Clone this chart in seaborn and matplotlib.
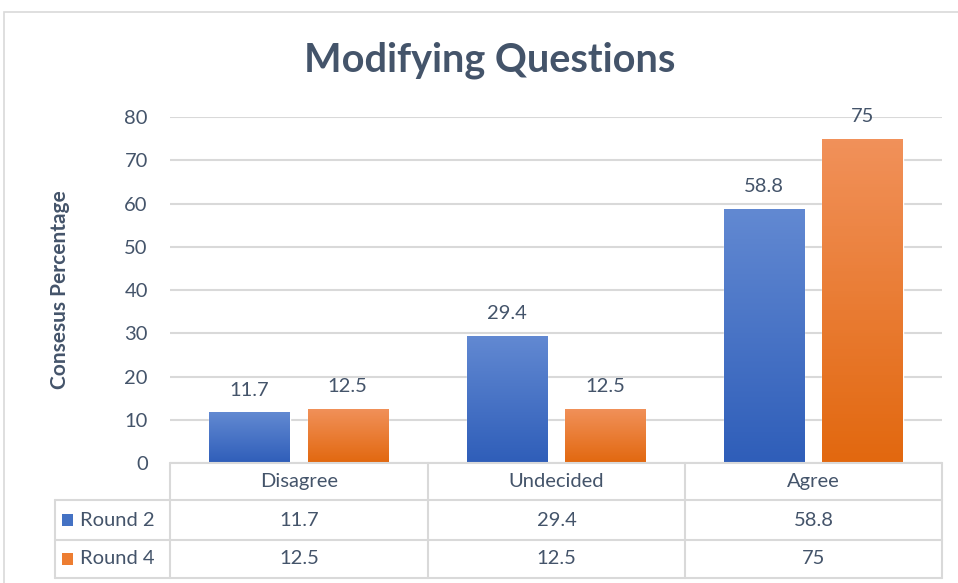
import numpy as np
import pandas as pd
import matplotlib
matplotlib.use("Agg")
import matplotlib.pyplot as plt
import seaborn as sns
from matplotlib.lines import Line2D
from matplotlib.patches import Rectangle
from matplotlib.colors import LinearSegmentedColormap

# data
categories = ["Disagree", "Undecided", "Agree"]
series_names = ["Round 2", "Round 4"]
round2 = [11.7, 29.4, 58.8]
round4 = [12.5, 12.5, 75]
yticks = [0, 10, 20, 30, 40, 50, 60, 70, 80]

TXT = "#44546A"
GRID = "#D9D9D9"
FS = 14.5
colors = {"Round 2": "#4472C4", "Round 4": "#ED7D31"}
grads = {"Round 2": ("#2F5EB9", "#6289D2"), "Round 4": ("#E2680F", "#F1915A")}

df = pd.DataFrame({
    "category": categories * 2,
    "series": [series_names[0]] * 3 + [series_names[1]] * 3,
    "value": round2 + round4,
})

sns.set_style("white")
plt.rcParams["font.family"] = ["Lato", "DejaVu Sans"]

W, H = 958, 583
fig = plt.figure(figsize=(W / 100, H / 100), dpi=100)

def fx(x):
    return x / W

def fy(y):
    return 1 - y / H

ax = fig.add_axes([fx(170), fy(463), fx(942) - fx(170), fy(117) - fy(463)])
sns.barplot(ax=ax, data=df, x="category", y="value", hue="series",
            palette=colors, width=0.763, gap=0.18, legend=False)
ax.set_yticks(yticks)
ax.set_yticklabels([str(t) for t in yticks], fontsize=FS, color=TXT)
ax.tick_params(axis="y", length=0, pad=16)
ax.set_xticks([])
ax.set_xlabel("")
ax.set_ylabel("Consesus Percentage", fontsize=15, fontweight="bold", color=TXT)
ax.yaxis.set_label_coords((70 - 170) / (942 - 170), 0.5)
for s in ax.spines.values():
    s.set_visible(False)
ax.grid(axis="y", color=GRID, linewidth=1.5)
ax.set_axisbelow(True)

# gradient fill clipped to each bar
for cont, name in zip(ax.containers, series_names):
    cmap = LinearSegmentedColormap.from_list(name, grads[name])
    for bar in cont:
        x0, y0 = bar.get_x(), bar.get_y()
        w, h = bar.get_width(), bar.get_height()
        im = ax.imshow(np.linspace(0, 1, 100).reshape(-1, 1), cmap=cmap, aspect="auto",
                       extent=[x0, x0 + w, y0, y0 + h], origin="lower", zorder=bar.get_zorder() + 0.1)
        im.set_clip_path(bar)
    ax.bar_label(cont, labels=[f"{v:g}" for v in cont.datavalues], padding=10,
                 fontsize=FS, color=TXT, clip_on=False)
ax.set_xlim(-0.5, 2.5)
ax.set_ylim(0, 80)

fig.suptitle("Modifying Questions", x=fx(490), y=fy(60), va="center",
             fontsize=28.5, fontweight="bold", color=TXT)

# chart border
fig.add_artist(Rectangle((fx(4), fy(H + 5)), 1, fy(12) - fy(H + 5),
                         transform=fig.transFigure, fill=False, edgecolor=GRID, linewidth=1.2))

# data table below the axis
col_edges = [170, 428, 685, 942]
row_lines = [463, 500, 540, 578]

def hline(y, x0, x1):
    fig.add_artist(Line2D([fx(x0), fx(x1)], [fy(y), fy(y)], color=GRID, linewidth=1.5))

def vline(x, y0, y1):
    fig.add_artist(Line2D([fx(x), fx(x)], [fy(y0), fy(y1)], color=GRID, linewidth=1.5))

hline(row_lines[0], 170, 942)
for y in row_lines[1:]:
    hline(y, 55, 942)
for x in col_edges:
    vline(x, row_lines[0], row_lines[-1])
vline(55, row_lines[1], row_lines[-1])

for i, cat in enumerate(categories):
    cx = (col_edges[i] + col_edges[i + 1]) / 2
    fig.text(fx(cx), fy((row_lines[0] + row_lines[1]) / 2), cat, ha="center", va="center",
             fontsize=FS, color=TXT)
    for r, vals in enumerate([round2, round4]):
        fig.text(fx(cx), fy((row_lines[r + 1] + row_lines[r + 2]) / 2), f"{vals[i]:g}",
                 ha="center", va="center", fontsize=FS, color=TXT)

for r, name in enumerate(series_names):
    cy = (row_lines[r + 1] + row_lines[r + 2]) / 2
    fig.add_artist(Rectangle((fx(62), fy(cy + 6)), fx(11), fy(0) - fy(12),
                             transform=fig.transFigure, color=colors[name], linewidth=0))
    fig.text(fx(80), fy(cy), name, ha="left", va="center", fontsize=FS, color=TXT)

fig.savefig("out.png", dpi=100)
